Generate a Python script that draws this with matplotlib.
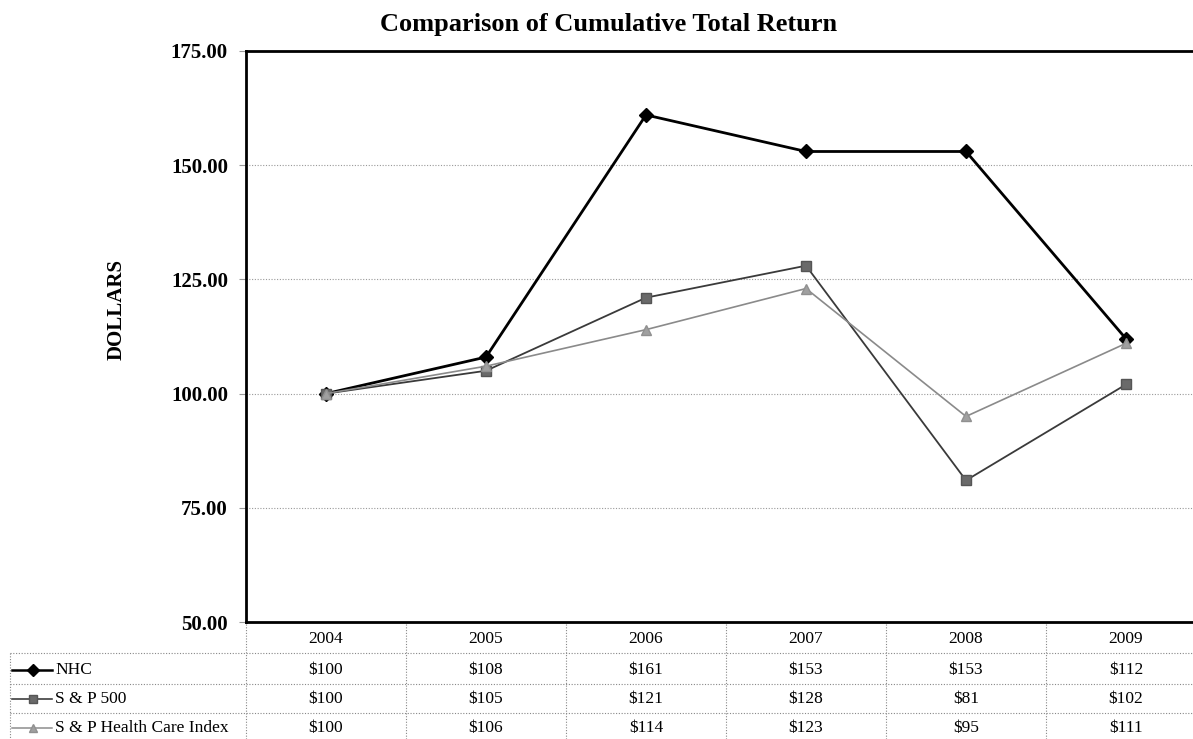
import matplotlib
matplotlib.use("Agg")
import matplotlib.pyplot as plt
import matplotlib.transforms as mtransforms
from matplotlib.lines import Line2D

plt.rcParams['font.family'] = ['Liberation Serif', 'DejaVu Serif']

# dados da tabela
years = ['2004', '2005', '2006', '2007', '2008', '2009']
nhc = [100, 108, 161, 153, 153, 112]
sp500 = [100, 105, 121, 128, 81, 102]
health = [100, 106, 114, 123, 95, 111]
series_names = ['NHC', 'S & P 500', 'S & P Health Care Index']
yticks = [50, 75, 100, 125, 150, 175]

W, H = 1193, 739
fig = plt.figure(figsize=(W / 100, H / 100), dpi=100)

def fy(p):
    # pixel y (de cima) -> fração da figura
    return 1 - p / H

ax = fig.add_axes([246 / W, fy(622), (1206 - 246) / W, (622 - 51) / H])

styles = [
    dict(color='black', lw=2.0, marker='D', ms=7, mfc='black', mec='black'),
    dict(color='#3a3a3a', lw=1.3, marker='s', ms=7, mfc='#6a6a6a', mec='#555555'),
    dict(color='#8a8a8a', lw=1.2, marker='^', ms=7, mfc='#a0a0a0', mec='#909090'),
]
data = [nhc, sp500, health]

x = list(range(len(years)))
for vals, st in zip(data, styles):
    ax.plot(x, vals, zorder=3, **st)

ax.set_xlim(-0.5, len(years) - 0.5)
ax.set_ylim(50, 175)
ax.set_yticks(yticks)
ax.set_yticklabels([f'{v:.2f}' for v in yticks], fontsize=15, fontweight='bold')
ax.set_xticks([])
ax.tick_params(axis='y', length=5, width=0.8, color='#999999', pad=8)
for v in yticks[1:-1]:
    ax.axhline(v, color='#999999', lw=0.8, ls=(0, (1, 1.5)), zorder=1)

ax.spines['right'].set_visible(False)
for s in ['left', 'top', 'bottom']:
    ax.spines[s].set_linewidth(2.0)
    ax.spines[s].set_color('black')

fig.text(609 / W, fy(25), 'Comparison of Cumulative Total Return', fontsize=19,
         fontweight='bold', ha='center', va='center')
fig.text(117 / W, fy(310), 'DOLLARS', fontsize=15, fontweight='bold',
         rotation=90, ha='center', va='center')

# tabela abaixo do gráfico
tr = mtransforms.blended_transform_factory(ax.transData, fig.transFigure)
grid_kw = dict(color='#888888', lw=0.8, ls=(0, (1, 1.5)))

header_y = fy(639)
row_y = [fy(670), fy(699), fy(728)]
line_y = [fy(653), fy(684), fy(713)]

for i, yr in enumerate(years):
    fig.text(i, header_y, yr, transform=tr, fontsize=12.5, ha='center', va='center')
    for r, vals in enumerate(data):
        fig.text(i, row_y[r], f'${vals[i]}', transform=tr, fontsize=12.5,
                 ha='center', va='center')

for ly in line_y:
    fig.add_artist(Line2D([10 / W, 1], [ly, ly], transform=fig.transFigure, **grid_kw))
for b in range(len(years)):
    fig.add_artist(Line2D([b - 0.5, b - 0.5], [fy(624), 0], transform=tr, **grid_kw))
fig.add_artist(Line2D([10 / W, 10 / W], [line_y[0], 0], transform=fig.transFigure, **grid_kw))

# legenda na primeira coluna
for r, (name, st) in enumerate(zip(series_names, styles)):
    ly = row_y[r]
    st2 = dict(st)
    st2['lw'] = st['lw'] * 0.9
    st2['ms'] = 6
    fig.add_artist(Line2D([12 / W, 33 / W, 52 / W], [ly, ly, ly], transform=fig.transFigure,
                          markevery=[1], **st2))
    fig.text(55 / W, ly, name, fontsize=12.5, ha='left', va='center')

fig.savefig('out.png', dpi=100)
